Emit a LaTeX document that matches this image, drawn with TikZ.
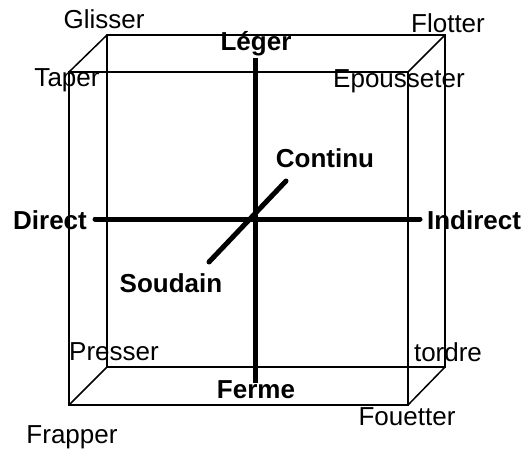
\documentclass[tikz,border=0pt]{standalone}
\usepackage{fontspec}
\setmainfont{Liberation Sans}
\begin{document}
\begin{tikzpicture}[x=1pt,y=-1pt,
  boxline/.style={line width=1.5pt, line join=miter},
  axis/.style={line width=5pt, line cap=round},
  lbl/.style={inner sep=0pt, font=\fontsize{26}{31}\selectfont},
  blbl/.style={inner sep=0pt, font=\fontsize{26}{31}\selectfont\bfseries}]
\useasboundingbox (0,0) rectangle (531,453);
% back square corners
\coordinate (b1) at (107,35);
\coordinate (b2) at (445,35);
\coordinate (b3) at (445,367);
\coordinate (b4) at (107,367);
% front square corners
\coordinate (f1) at (69,72);
\coordinate (f2) at (408,72);
\coordinate (f3) at (408,405);
\coordinate (f4) at (69,405);
\draw[boxline] (b1) -- (b2) -- (b3) -- (b4) -- cycle;
\draw[boxline] (f1) -- (f2) -- (f3) -- (f4) -- cycle;
\draw[boxline] (b1) -- (f1);
\draw[boxline] (b2) -- (f2);
\draw[boxline] (b3) -- (f3);
\draw[boxline] (b4) -- (f4);
% axes
\coordinate (vt) at (255,58);
\coordinate (vb) at (255,383);
\coordinate (hl) at (95,219);
\coordinate (hr) at (420,219);
\coordinate (dl) at (209,262);
\coordinate (dr) at (286,181);
\draw[axis, line cap=butt] (vt) -- (vb);
\draw[axis] (hl) -- (hr);
\draw[axis] (dl) -- (dr);
% labels
\node[lbl] (glisser) at (104,19) {Glisser};
\node[lbl] (flotter) at (448,23) {Flotter};
\node[lbl] (taper) at (67,80) {Taper};
\node[lbl] (epous) at (399,81) {Epousseter};
\node[blbl] (leger) at (256,44) {Léger};
\node[blbl] (continu) at (325,158) {Continu};
\node[blbl] (direct) at (50,220) {Direct};
\node[blbl] (indirect) at (474,220) {Indirect};
\node[blbl] (soudain) at (171,283) {Soudain};
\node[lbl] (presser) at (114,352) {Presser};
\node[lbl] (tordre) at (448,352) {tordre};
\node[blbl] (ferme) at (256,390) {Ferme};
\node[lbl] (frapper) at (72,437) {Frapper};
\node[lbl] (fouetter) at (407,417) {Fouetter};
\end{tikzpicture}
\end{document}
